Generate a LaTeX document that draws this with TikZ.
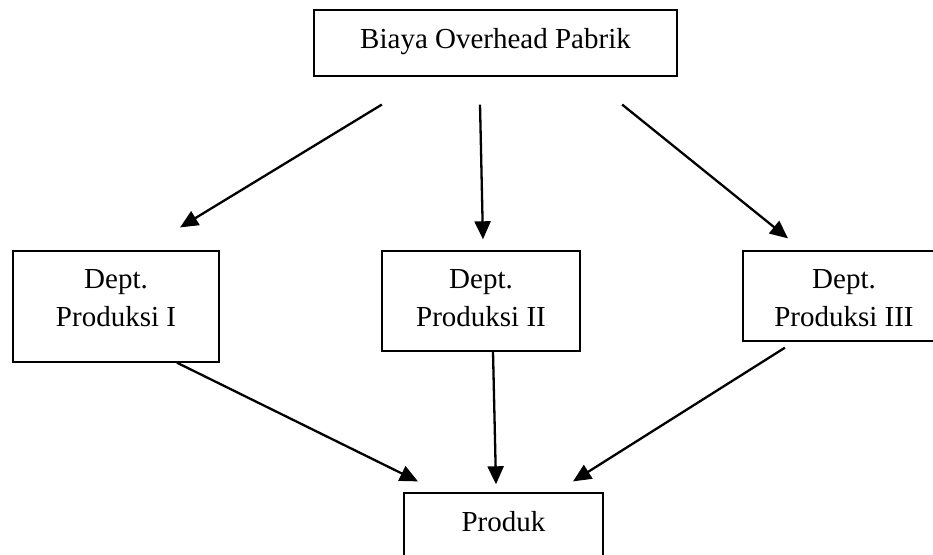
\documentclass[tikz,border=0pt]{standalone}
\usepackage{fontspec}
\setmainfont{Liberation Serif}
\usetikzlibrary{arrows.meta}
\begin{document}
\begin{tikzpicture}[x=1pt,y=-1pt,
  box/.style={draw=black, line width=1.4pt, rectangle, inner sep=0pt},
  txt/.style={inner sep=0pt, align=center, font=\fontsize{29}{38}\selectfont},
  arr/.style={draw=black, line width=2.3pt, -{Triangle[length=18pt,width=16pt]}}]
\useasboundingbox (0,0) rectangle (933,554);
\clip (0,0) rectangle (933,554);
% boxes
\node[box, minimum width=363pt, minimum height=66pt] (top) at (495.5,43) {};
\node[box, minimum width=206pt, minimum height=111pt] (d1) at (116,306.5) {};
\node[box, minimum width=198pt, minimum height=100pt] (d2) at (481,301) {};
\node[box, minimum width=202pt, minimum height=90pt] (d3) at (844,296) {};
\node[box, minimum width=199pt, minimum height=100pt] (p) at (503.5,543) {};
% texts
\node[txt, anchor=base] (ttop) at (495.5,48) {Biaya Overhead Pabrik};
\node[txt, anchor=north] (t1) at ([yshift=-18.8pt]d1.north) {Dept.\\Produksi I};
\node[txt, anchor=north] (t2) at ([yshift=-18.8pt]d2.north) {Dept.\\Produksi II};
\node[txt, anchor=north] (t3) at ([yshift=-18.8pt]d3.north) {Dept.\\Produksi III};
\node[txt, anchor=base] (tp) at (503.5,531) {Produk};
% arrows from top
\draw[arr, shorten <=53.5pt, shorten >=44pt] ([xshift=-67.9pt]top.south) -- ([xshift=26.5pt]d1.north);
\draw[arr, shorten <=28pt, shorten >=11pt] ([xshift=-16.1pt]top.south) -- ([xshift=2.2pt]d2.north);
\draw[arr, shorten <=44.4pt, shorten >=19pt] ([xshift=92.1pt]top.south) -- ([xshift=-41.2pt]d3.north);
% arrows to product
\draw[arr, shorten >=24.7pt] ([xshift=61pt]d1.south) -- ([xshift=-63.4pt]p.north);
\draw[arr, shorten >=8pt] ([xshift=12pt]d2.south) -- ([xshift=-7.3pt]p.north);
\draw[arr, shorten <=11.2pt, shorten >=20.5pt] ([xshift=-49.6pt]d3.south) -- ([xshift=52.2pt]p.north);
\end{tikzpicture}
\end{document}
